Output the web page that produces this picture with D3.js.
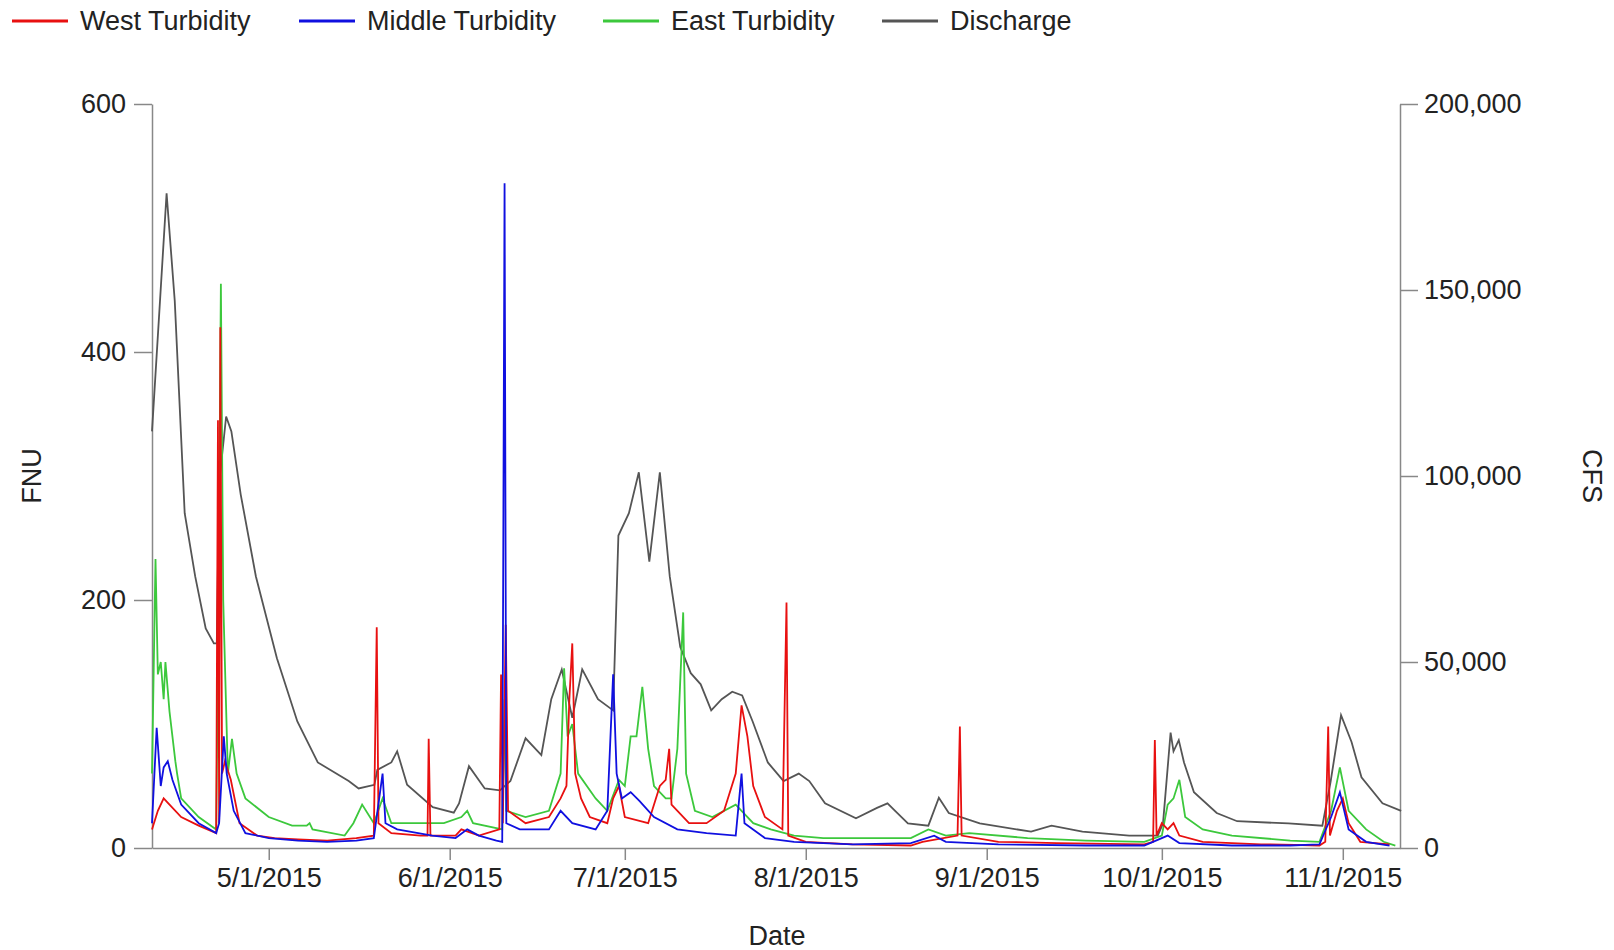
<!DOCTYPE html>
<html>
<head>
<meta charset="utf-8">
<script src="https://cdn.jsdelivr.net/npm/d3@7"></script>
<style>
  body { margin: 0; background: #fff; }
  text { font-family: "Liberation Sans", Arial, sans-serif; }
</style>
</head>
<body>
<svg width="1614" height="950"></svg>
<script>
const svg = d3.select("svg");

// day offsets are days since 4/11/2015
const startDate = new Date(2015, 3, 11);

// discharge, thousand CFS
const dischargeDay = [0,2.5,3.9,5.6,7.4,9.2,10.6,11.1,11.5,12.7,13.6,15.2,17.8,21.4,24.9,28.4,33.7,35.4,38.1,38.6,41,42,43.7,48.1,51.7,52.6,54.3,57,59.6,61.4,64,66.7,68.4,70.2,72,73.7,76.4,79,79.9,81.7,83.4,85.2,87,88.7,90.5,92.3,94,95.8,97.6,99.4,101.1,102.9,105.5,108.2,110.8,112.6,115.3,120.6,124.2,126,127.7,129.5,133,134.8,136.5,141.8,150.6,154.1,159.4,167.4,172.3,173.2,174.5,175,175.9,176.8,178.5,182.4,185.9,194.7,200.5,201.9,203.7,205.5,207.2,210.8,214];
const dischargeK = [112,176,147,90,73,59,55,55,98,116,112,95,73,51,34,23,18,16,17,21,23,26,17,11,9.5,12,22,16,15.5,18,29.5,25,40,48,35,48,40,37,84,90,101,77,101,73,54,47,44,37,40,42,41,34,23,18,20,18,12,8,10.8,12,9.4,6.6,6,13.5,9.4,6.6,4.4,6,4.4,3.3,3.3,6.6,31,26,29,23,15,9.4,7.2,6.6,6,17.7,35.7,28.5,19,12,10];

const westDay = [0,1,2,3,5,8,11,11.3,11.5,11.7,12,12.5,13.5,15,18,21,25,30,35,38,38.5,38.8,41,46,47.2,47.4,47.7,52,53,56,59.5,59.8,60.1,60.6,61,64,68,70,71,71.5,72,72.5,73.5,75,78,79,80,81,85,87,88,88.6,89,92,95,98,100,101,102,103,105,108,108.7,109,112,120,130,132,138,138.4,138.7,145,155,170,171.5,171.8,172.1,173,174,175,176,180,190,200,201,201.5,201.8,203,204,205,207,212];
const westFNU = [15,30,40,35,25,18,12,345,20,420,60,70,55,20,10,8,7,6,8,10,178,20,12,10,10,88,10,10,15,10,15,140,20,180,30,20,25,40,50,120,165,60,40,25,20,40,50,25,20,50,55,80,35,20,20,30,60,115,90,50,25,15,198,10,5,3,2,5,10,98,10,5,4,3,5,87,10,20,15,20,10,5,3,2,5,98,10,30,40,20,5,3];

const middleDay = [0,0.8,1.5,2,2.7,3.5,5,8,11,11.5,12.3,12.8,14,16,20,25,30,35,38,39.5,40,42,48,52,54,56,59,60,60.4,60.7,63,68,70,72,76,78,79,79.6,80.5,82,83.5,86,90,95,100,101,101.5,105,110,120,130,134,136,145,160,170,174,176,185,195,200,202,203.5,205,208,212];
const middleFNU = [20,97,50,65,70,55,35,20,12,20,90,60,30,12,8,6,5,6,8,60,20,15,10,8,15,10,6,5,536,20,15,15,30,20,15,30,140,60,40,45,38,25,15,12,10,60,20,8,5,3,4,10,5,3,2,2,10,4,2,2,3,25,45,15,5,2];

const eastDay = [0,0.6,1,1.5,2,2.3,3,4,4.3,5,8,11,11.4,11.8,12.2,13,13.7,14.5,16,20,24,26.5,27,27.5,33,34.5,36,38,39.5,41,50,53,54,55,60,60.4,60.7,64,68,70,70.6,71.2,72,73,76,78,80,81,82,83,84,85,86,88,89,90,91,91.5,93,96,100,101,103,106,110,115,130,133,136,140,150,160,170,173,174,175,176,177,180,185,195,200,202,203.5,205,208,211,213];
const eastFNU = [60,233,140,150,120,150,110,70,60,40,25,15,200,455,200,60,88,60,40,25,18,18,20,15,10,20,35,20,40,20,20,25,30,20,15,120,30,25,30,60,145,90,100,60,40,30,55,50,90,90,130,80,50,40,40,80,190,60,30,25,35,30,20,15,10,8,8,15,10,12,8,6,5,10,35,40,55,25,15,10,6,5,30,65,30,15,5,2];

const xTicks = ["5/1/2015","6/1/2015","7/1/2015","8/1/2015","9/1/2015","10/1/2015","11/1/2015"];

const plotLeft = 152, plotRight = 1400, plotTop = 104, plotBottom = 848;
const toDate = d => new Date(startDate.getTime() + d * 86400000);

const x = d3.scaleTime().domain([toDate(0), toDate(213.8)]).range([plotLeft, plotRight]);
const yL = d3.scaleLinear().domain([0, 600]).range([plotBottom, plotTop]);
const yR = d3.scaleLinear().domain([0, 200000]).range([plotBottom, plotTop]);

const axisColor = "#888";
const fs = 27;
function styleAxis(g) {
  g.selectAll("path, line").attr("stroke", axisColor).attr("stroke-width", 1.5);
  g.selectAll("text").attr("font-size", fs).attr("fill", "#222");
}

svg.append("g").attr("transform", `translate(${plotLeft},0)`)
  .call(d3.axisLeft(yL).tickValues([0, 200, 400, 600]).tickSize(18).tickPadding(8).tickSizeOuter(0))
  .call(styleAxis);
svg.append("g").attr("transform", `translate(${plotRight},0)`)
  .call(d3.axisRight(yR).tickValues([0, 50000, 100000, 150000, 200000]).tickFormat(d3.format(",")).tickSize(18).tickPadding(6).tickSizeOuter(0))
  .call(styleAxis);
const parse = d3.timeParse("%m/%d/%Y");
svg.append("g").attr("transform", `translate(0,${plotBottom})`)
  .call(d3.axisBottom(x).tickValues(xTicks.map(parse)).tickFormat((d, i) => xTicks[i]).tickSize(12).tickPadding(8).tickSizeOuter(0))
  .call(styleAxis);

svg.append("text").attr("transform", `translate(41,${(plotTop + plotBottom) / 2}) rotate(-90)`)
  .attr("text-anchor", "middle").attr("font-size", fs).attr("fill", "#222").text("FNU");
svg.append("text").attr("transform", `translate(1583,${(plotTop + plotBottom) / 2}) rotate(90)`)
  .attr("text-anchor", "middle").attr("font-size", fs).attr("fill", "#222").text("CFS");
svg.append("text").attr("x", 777).attr("y", 945)
  .attr("text-anchor", "middle").attr("font-size", fs).attr("fill", "#222").text("Date");

const series = [
  { name: "Discharge", color: "#555", days: dischargeDay, vals: dischargeK.map(v => v * 1000), y: yR },
  { name: "East Turbidity", color: "#3cc83c", days: eastDay, vals: eastFNU, y: yL },
  { name: "West Turbidity", color: "#e81010", days: westDay, vals: westFNU, y: yL },
  { name: "Middle Turbidity", color: "#1010e0", days: middleDay, vals: middleFNU, y: yL }
];

series.forEach(s => {
  const pts = s.days.map((d, i) => [toDate(d), s.vals[i]]);
  svg.append("path")
    .datum(pts)
    .attr("fill", "none")
    .attr("stroke", s.color)
    .attr("stroke-width", 1.8)
    .attr("d", d3.line().x(p => x(p[0])).y(p => s.y(p[1])));
});

// legend
const legendItems = [
  { name: "West Turbidity", color: "#e81010", x: 12 },
  { name: "Middle Turbidity", color: "#1010e0", x: 299 },
  { name: "East Turbidity", color: "#3cc83c", x: 603 },
  { name: "Discharge", color: "#555", x: 882 }
];
const lg = svg.append("g");
legendItems.forEach(l => {
  lg.append("line").attr("x1", l.x).attr("x2", l.x + 56).attr("y1", 21).attr("y2", 21)
    .attr("stroke", l.color).attr("stroke-width", 3);
  lg.append("text").attr("x", l.x + 68).attr("y", 30).attr("font-size", fs).attr("fill", "#222").text(l.name);
});
</script>
</body>
</html>
